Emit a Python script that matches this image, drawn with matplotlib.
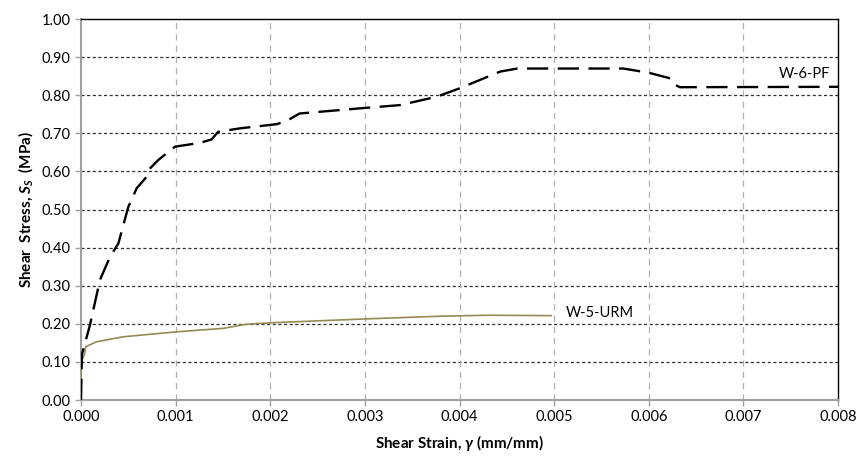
import matplotlib
matplotlib.use("Agg")
import matplotlib.pyplot as plt
import numpy as np

plt.rcParams['font.family'] = ['Lato', 'DejaVu Sans']
plt.rcParams['mathtext.fontset'] = 'custom'
plt.rcParams['mathtext.rm'] = 'Lato:bold'
plt.rcParams['mathtext.it'] = 'Lato:bold:italic'
plt.rcParams['mathtext.bf'] = 'Lato:bold'

# W-6-PF (dashed black)
pf_strain = [0.0, 0.00001, 0.000095, 0.0002, 0.000307, 0.000395, 0.0005, 0.000589,
             0.000694, 0.00073, 0.000817, 0.000994, 0.00126, 0.00138, 0.00145,
             0.00168, 0.00207, 0.00219, 0.00231, 0.00302, 0.00337, 0.00376,
             0.0040, 0.00443, 0.00461, 0.00573, 0.0060, 0.00623, 0.00628,
             0.00633, 0.0080]
pf_stress = [0.0, 0.12, 0.197, 0.315, 0.376, 0.411, 0.507, 0.556,
             0.586, 0.608, 0.630, 0.665, 0.675, 0.684, 0.704,
             0.713, 0.724, 0.735, 0.752, 0.767, 0.774, 0.796,
             0.818, 0.862, 0.870, 0.870, 0.859, 0.844, 0.827,
             0.821, 0.822]

# W-5-URM (olive solid)
urm_strain = [0.0, 0.000002, 0.00001, 0.000035, 0.00005, 0.000166, 0.000447,
              0.00101, 0.0015, 0.00175, 0.00203, 0.00302, 0.0038, 0.0043, 0.00497]
urm_stress = [0.0, 0.096, 0.105, 0.118, 0.14, 0.153, 0.166,
              0.179, 0.188, 0.199, 0.203, 0.213, 0.220, 0.2225, 0.2215]

xticks = [0.000, 0.001, 0.002, 0.003, 0.004, 0.005, 0.006, 0.007, 0.008]
yticks = [0.0, 0.1, 0.2, 0.3, 0.4, 0.5, 0.6, 0.7, 0.8, 0.9, 1.0]

fig = plt.figure(figsize=(8.58, 4.59), dpi=100)
ax = fig.add_axes([0.0944, 0.1285, 0.8823, 0.8301])

ax.plot(urm_strain, urm_stress, color='#948A54', lw=1.2, zorder=3)
ax.plot(pf_strain, pf_stress, color='black', lw=1.7, dashes=(9, 4), zorder=4)

ax.text(0.00512, 0.228, 'W-5-URM', fontsize=10.5, va='center', ha='left')
ax.text(0.00765, 0.856, 'W-6-PF', fontsize=10.5, va='center', ha='center')

ax.set_xlim(0, 0.008)
ax.set_ylim(0, 1.0)
ax.set_xticks(xticks)
ax.set_yticks(yticks)
ax.set_xticklabels(['%.3f' % v for v in xticks])
ax.set_yticklabels(['%.2f' % v for v in yticks])
ax.tick_params(labelsize=10.5, length=4, color='#a0a0a0', width=1)

for v in yticks[1:-1]:
    ax.axhline(v, color='#303030', lw=0.9, dashes=(2.5, 2), zorder=1)
for v in xticks[1:-1]:
    ax.axvline(v, color='#b0b0b0', lw=0.9, dashes=(5, 4), zorder=1)

for s in ['left', 'bottom']:
    ax.spines[s].set_color('#a0a0a0')
    ax.spines[s].set_linewidth(1.5)
for s in ['top', 'right']:
    ax.spines[s].set_color('black')
    ax.spines[s].set_linewidth(1.0)

ax.set_xlabel(r'Shear Strain, $\gamma$ (mm/mm)', fontsize=11, fontweight='bold', labelpad=6)
ax.set_ylabel(r'Shear  Stress, $S_S$  (MPa)', fontsize=11, fontweight='bold', labelpad=5)

fig.savefig('out.png', dpi=100)
